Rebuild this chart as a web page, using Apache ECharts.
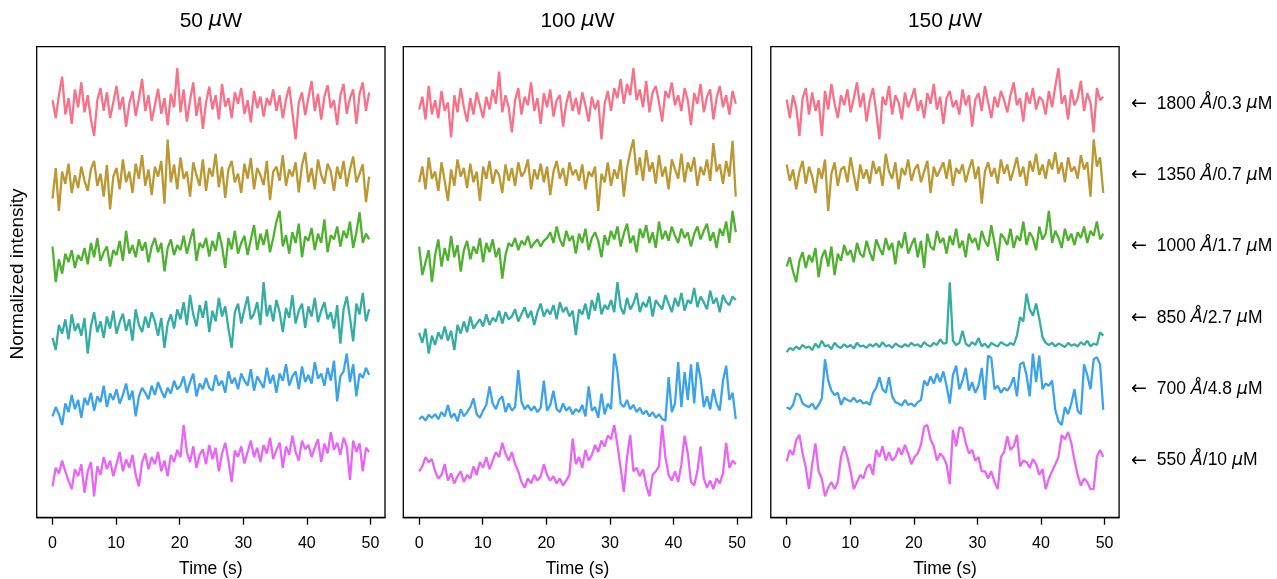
<!doctype html>
<html>

<head>
    <meta charset="utf-8">
    <title>Normalized intensity traces</title>
    <script type="text/javascript" src="https://cdn.jsdelivr.net/npm/echarts@6/dist/echarts.min.js"></script>
</head>

<body style="margin:0;padding:0;background:#fff">
    <div id="tb" style="width:1277px;height:579px"></div>
    <script>
        // time axis: 100 samples from 0 to 49.8 s
        var N = 100;
        var T_END = 49.8;
        var times = [];
        for (var k = 0; k < N; k++) times.push(+(k * T_END / (N - 1)).toFixed(3));

        var xTicks = [0, 10, 20, 30, 40, 50];
        var powers = ['50', '100', '150'];
        var traceLabels = ['1800 Å/0.3 μM', '1350 Å/0.7 μM', '1000 Å/1.7 μM', '850 Å/2.7 μM', '700 Å/4.8 μM', '550 Å/10 μM'];
        var colors = ['#f77189', '#bb9832', '#50b131', '#36ada4', '#3ba3ec', '#e866f4'];
        var offsets = [5, 4, 3, 2, 1, 0];

        // ---- 50 uW ----
        var pink50 = [
            0.55, 0.30, 0.62, 0.88, 0.35, 0.58, 0.22, 0.70, 0.45, 0.80,
            0.38, 0.62, 0.28, 0.05, 0.55, 0.72, 0.40, 0.66, 0.30, 0.52,
            0.75, 0.42, 0.60, 0.18, 0.50, 0.68, 0.33, 0.57, 0.85, 0.40,
            0.62, 0.26, 0.48, 0.71, 0.36, 0.58, 0.20, 0.64, 0.45, 1.00,
            0.38, 0.70, 0.25, 0.55, 0.80, 0.33, 0.60, 0.15, 0.52, 0.74,
            0.42, 0.62, 0.28, 0.78, 0.46, 0.58, 0.30, 0.66, 0.50, 0.72,
            0.36, 0.55, 0.24, 0.68, 0.44, 0.60, 0.32, 0.58, 0.48, 0.70,
            0.40, 0.62, 0.30, 0.56, 0.74, 0.38, 0.00, 0.52, 0.66, 0.34,
            0.58, 0.82, 0.40, 0.64, 0.28, 0.60, 0.76, 0.44, 0.55, 0.20,
            0.62, 0.78, 0.36, 0.58, 0.70, 0.22, 0.64, 0.80, 0.40, 0.66
        ];
        var gold50 = [
            0.17, 0.60, 0.00, 0.55, 0.38, 0.66, 0.25, 0.50, 0.32, 0.62,
            0.42, 0.28, 0.58, 0.70, 0.35, 0.52, 0.20, 0.64, 0.02, 0.48,
            0.60, 0.30, 0.72, 0.40, 0.55, 0.25, 0.66, 0.45, 0.78, 0.35,
            0.58, 0.22, 0.62, 0.48, 0.70, 0.10, 1.00, 0.40, 0.65, 0.30,
            0.75, 0.45, 0.55, 0.20, 0.68, 0.50, 0.35, 0.72, 0.28, 0.60,
            0.48, 0.80, 0.33, 0.62, 0.18, 0.58, 0.70, 0.40, 0.52, 0.25,
            0.66, 0.45, 0.74, 0.30, 0.60, 0.50, 0.36, 0.70, 0.15, 0.55,
            0.62, 0.42, 0.78, 0.35, 0.58, 0.48, 0.68, 0.26, 0.64, 0.82,
            0.40, 0.60, 0.30, 0.72, 0.50, 0.38, 0.66, 0.55, 0.28, 0.62,
            0.45, 0.70, 0.34, 0.58, 0.76, 0.40, 0.52, 0.65, 0.12, 0.48
        ];
        var green50 = [
            0.50, 0.00, 0.32, 0.12, 0.40, 0.28, 0.45, 0.20, 0.38, 0.30,
            0.48, 0.25, 0.55, 0.35, 0.62, 0.30, 0.42, 0.50, 0.22, 0.45,
            0.38, 0.58, 0.30, 0.72, 0.40, 0.52, 0.35, 0.60, 0.44, 0.56,
            0.28, 0.50, 0.62, 0.42, 0.55, 0.15, 0.48, 0.60, 0.38, 0.52,
            0.45, 0.65, 0.40, 0.58, 0.75, 0.30, 0.55, 0.48, 0.62, 0.36,
            0.58, 0.44, 0.70, 0.50, 0.20, 0.62, 0.46, 0.72, 0.40, 0.55,
            0.65, 0.38, 0.60, 0.80, 0.45, 0.68, 0.52, 0.74, 0.42, 0.62,
            0.85, 1.00, 0.50, 0.66, 0.40, 0.70, 0.55, 0.82, 0.35, 0.64,
            0.58, 0.76, 0.45, 0.68, 0.55, 0.88, 0.42, 0.66, 0.60, 0.78,
            0.50, 0.72, 0.62, 0.85, 0.48, 0.70, 0.98, 0.55, 0.68, 0.60
        ];
        var teal50 = [
            0.22, 0.05, 0.40, 0.28, 0.48, 0.20, 0.55, 0.32, 0.42, 0.25,
            0.50, 0.00, 0.38, 0.58, 0.30, 0.45, 0.22, 0.52, 0.35, 0.60,
            0.28, 0.44, 0.56, 0.32, 0.48, 0.18, 0.62, 0.40, 0.30, 0.52,
            0.36, 0.58, 0.45, 0.25, 0.50, 0.08, 0.42, 0.55, 0.35, 0.62,
            0.48, 0.72, 0.40, 0.82, 0.55, 0.38, 0.68, 0.50, 0.74, 0.30,
            0.60, 0.45, 0.78, 0.52, 0.66, 0.35, 0.08, 0.58, 0.70, 0.42,
            0.62, 0.80, 0.48, 0.56, 0.72, 0.40, 1.00, 0.52, 0.68, 0.45,
            0.75, 0.58, 0.30, 0.64, 0.50, 0.82, 0.42, 0.60, 0.70, 0.36,
            0.66, 0.52, 0.78, 0.44, 0.60, 0.72, 0.48, 0.58, 0.35, 0.68,
            0.14, 0.62, 0.80, 0.50, 0.17, 0.70, 0.55, 0.85, 0.45, 0.62
        ];
        var blue50 = [
            0.12, 0.25, 0.15, 0.00, 0.30, 0.18, 0.42, 0.22, 0.35, 0.10,
            0.38, 0.28, 0.45, 0.20, 0.40, 0.32, 0.55, 0.25, 0.44, 0.35,
            0.50, 0.30, 0.42, 0.58, 0.35, 0.48, 0.12, 0.40, 0.52, 0.45,
            0.36, 0.55, 0.42, 0.60, 0.48, 0.38, 0.52, 0.44, 0.62, 0.50,
            0.55, 0.68, 0.45, 0.60, 0.72, 0.40, 0.58, 0.50, 0.66, 0.52,
            0.48, 0.70, 0.55, 0.62, 0.45, 0.75, 0.58, 0.66, 0.50, 0.72,
            0.62, 0.55, 0.78, 0.48, 0.68, 0.60, 0.52, 0.80, 0.58, 0.70,
            0.45, 0.72, 0.62, 0.85, 0.55, 0.68, 0.75, 0.50, 0.82, 0.60,
            0.70, 0.58, 0.88, 0.65, 0.72, 0.55, 0.80, 0.62, 0.90, 0.33,
            0.68, 0.75, 1.00, 0.60, 0.85, 0.40, 0.72, 0.66, 0.80, 0.70
        ];
        var magenta50 = [
            0.14, 0.40, 0.32, 0.50, 0.35, 0.22, 0.10, 0.38, 0.28, 0.45,
            0.05, 0.35, 0.48, 0.00, 0.42, 0.30, 0.55, 0.38, 0.50, 0.28,
            0.45, 0.62, 0.35, 0.52, 0.40, 0.58, 0.30, 0.14, 0.48, 0.60,
            0.38, 0.55, 0.45, 0.62, 0.35, 0.50, 0.28, 0.58, 0.48, 0.65,
            0.55, 1.00, 0.62, 0.48, 0.70, 0.40, 0.58, 0.66, 0.45, 0.72,
            0.52, 0.68, 0.35, 0.60, 0.75, 0.50, 0.20, 0.64, 0.55, 0.70,
            0.46, 0.62, 0.78, 0.55, 0.68, 0.48, 0.72, 0.60, 0.82, 0.52,
            0.65, 0.75, 0.40, 0.70, 0.58, 0.85, 0.62, 0.50, 0.78, 0.66,
            0.72, 0.55, 0.68, 0.80, 0.48, 0.74, 0.60, 0.90, 0.65, 0.75,
            0.58, 0.82, 0.70, 0.23, 0.78, 0.62, 0.74, 0.35, 0.68, 0.62
        ];

        // ---- 100 uW ----
        var pink100 = [
            0.42, 0.60, 0.28, 0.75, 0.35, 0.55, 0.30, 0.68, 0.40, 0.52,
            0.03, 0.62, 0.38, 0.72, 0.45, 0.25, 0.58, 0.35, 0.66, 0.48,
            0.30, 0.60, 0.42, 0.70, 0.50, 0.95, 0.38, 0.62, 0.45, 0.10,
            0.55, 0.72, 0.35, 0.60, 0.48, 0.80, 0.40, 0.58, 0.22, 0.65,
            0.45, 0.70, 0.32, 0.55, 0.62, 0.18, 0.50, 0.68, 0.40, 0.58,
            0.35, 0.66, 0.48, 0.25, 0.60, 0.42, 0.55, 0.00, 0.50, 0.68,
            0.40, 0.72, 0.58, 0.85, 0.50, 0.78, 0.62, 1.00, 0.55, 0.70,
            0.45, 0.82, 0.38, 0.66, 0.75, 0.52, 0.25, 0.68, 0.58, 0.80,
            0.48, 0.62, 0.40, 0.72, 0.55, 0.20, 0.65, 0.50, 0.78, 0.38,
            0.60, 0.70, 0.28, 0.58, 0.75, 0.45, 0.62, 0.35, 0.68, 0.50
        ];
        var gold100 = [
            0.40, 0.62, 0.30, 0.75, 0.45, 0.55, 0.28, 0.68, 0.42, 0.14,
            0.58, 0.35, 0.72, 0.48, 0.60, 0.32, 0.66, 0.40, 0.55, 0.14,
            0.62, 0.45, 0.70, 0.38, 0.58, 0.50, 0.25, 0.65, 0.42, 0.60,
            0.35, 0.68, 0.48, 0.55, 0.72, 0.30, 0.58, 0.44, 0.66, 0.40,
            0.62, 0.22, 0.55, 0.70, 0.45, 0.60, 0.35, 0.68, 0.50, 0.58,
            0.42, 0.65, 0.30, 0.55, 0.48, 0.62, 0.00, 0.52, 0.40, 0.68,
            0.35, 0.58, 0.45, 0.72, 0.20, 0.60, 0.82, 1.00, 0.50, 0.75,
            0.42, 0.85, 0.55, 0.68, 0.38, 0.78, 0.48, 0.62, 0.30, 0.72,
            0.58, 0.45, 0.80, 0.40, 0.68, 0.55, 0.75, 0.35, 0.62, 0.50,
            0.72, 0.42, 0.95, 0.55, 0.65, 0.38, 0.70, 0.48, 0.98, 0.20
        ];
        var green100 = [
            0.50, 0.10, 0.28, 0.45, 0.00, 0.38, 0.60, 0.22, 0.48, 0.30,
            0.65, 0.35, 0.52, 0.15, 0.45, 0.58, 0.32, 0.50, 0.40, 0.62,
            0.28, 0.55, 0.42, 0.60, 0.35, 0.48, 0.05, 0.38, 0.55, 0.50,
            0.62, 0.45, 0.58, 0.52, 0.65, 0.48, 0.55, 0.60, 0.50, 0.58,
            0.62, 0.70, 0.55, 0.78, 0.60, 0.50, 0.72, 0.58, 0.65, 0.40,
            0.68, 0.55, 0.75, 0.45, 0.62, 0.70, 0.58, 0.35, 0.66, 0.52,
            0.72, 0.60, 0.78, 0.50, 0.68, 0.82, 0.55, 0.65, 0.42, 0.75,
            0.62, 0.80, 0.55, 0.70, 0.48, 0.85, 0.60, 0.72, 0.58, 0.78,
            0.65, 0.55, 0.75, 0.62, 0.70, 0.50, 0.68, 0.78, 0.60, 0.72,
            0.82, 0.58, 0.70, 0.48, 0.75, 0.65, 0.85, 0.55, 1.00, 0.70
        ];
        var teal100 = [
            0.29, 0.15, 0.35, 0.00, 0.25, 0.12, 0.30, 0.20, 0.38, 0.18,
            0.32, 0.05, 0.40, 0.28, 0.45, 0.30, 0.52, 0.35, 0.42, 0.48,
            0.38, 0.55, 0.40, 0.50, 0.45, 0.60, 0.42, 0.58, 0.48, 0.52,
            0.62, 0.45, 0.55, 0.65, 0.50, 0.60, 0.40, 0.58, 0.70, 0.52,
            0.62, 0.55, 0.68, 0.48, 0.72, 0.58, 0.65, 0.52, 0.60, 0.26,
            0.62, 0.55, 0.70, 0.48, 0.75, 0.60, 0.85, 0.55, 0.68, 0.62,
            0.75, 0.58, 1.00, 0.65, 0.55, 0.78, 0.62, 0.70, 0.85, 0.58,
            0.72, 0.65, 0.80, 0.52, 0.75, 0.68, 0.62, 0.82, 0.70, 0.58,
            0.78, 0.66, 0.85, 0.60, 0.75, 0.70, 0.92, 0.65, 0.80, 0.72,
            0.62, 0.88, 0.70, 0.78, 0.58, 0.82, 0.72, 0.68, 0.80, 0.75
        ];
        var blue100 = [
            0.08, 0.12, 0.06, 0.14, 0.10, 0.15, 0.08, 0.18, 0.12, 0.28,
            0.10, 0.16, 0.05, 0.22, 0.12, 0.18, 0.25, 0.37, 0.15, 0.10,
            0.20, 0.28, 0.54, 0.30, 0.22, 0.35, 0.40, 0.18, 0.30, 0.20,
            0.25, 0.77, 0.32, 0.22, 0.28, 0.20, 0.26, 0.18, 0.24, 0.62,
            0.20, 0.28, 0.48, 0.22, 0.18, 0.30, 0.20, 0.25, 0.15, 0.22,
            0.18, 0.28, 0.12, 0.54, 0.20, 0.25, 0.10, 0.44, 0.15, 0.30,
            0.22, 1.00, 0.75, 0.30, 0.25, 0.35, 0.22, 0.28, 0.18, 0.24,
            0.15, 0.20, 0.12, 0.18, 0.10, 0.15, 0.08, 0.06, 0.67, 0.18,
            0.30, 0.88, 0.25, 0.74, 0.35, 0.85, 0.30, 0.88, 0.65, 0.25,
            0.40, 0.22, 0.50, 0.30, 0.20, 0.62, 0.83, 0.35, 0.45, 0.08
        ];
        var magenta100 = [
            0.35, 0.42, 0.55, 0.48, 0.52, 0.35, 0.25, 0.30, 0.45, 0.22,
            0.32, 0.18, 0.28, 0.35, 0.20, 0.30, 0.25, 0.42, 0.30, 0.48,
            0.40, 0.55, 0.38, 0.50, 0.62, 0.55, 0.75, 0.60, 0.50, 0.62,
            0.45, 0.35, 0.20, 0.12, 0.25, 0.18, 0.30, 0.22, 0.28, 0.45,
            0.30, 0.22, 0.28, 0.18, 0.25, 0.15, 0.22, 0.30, 0.81, 0.45,
            0.55, 0.40, 0.65, 0.50, 0.58, 0.72, 0.62, 0.78, 0.70, 0.85,
            0.80, 1.00, 0.72, 0.40, 0.06, 0.55, 0.86, 0.35, 0.40, 0.28,
            0.38, 0.15, 0.00, 0.30, 0.35, 0.42, 1.00, 0.55, 0.30, 0.22,
            0.35, 0.20, 0.45, 0.85, 0.60, 0.20, 0.15, 0.35, 0.70, 0.25,
            0.12, 0.22, 0.10, 0.25, 0.18, 0.32, 0.75, 0.40, 0.50, 0.45
        ];

        // ---- 150 uW ----
        var pink150 = [
            0.56, 0.30, 0.62, 0.45, 0.05, 0.58, 0.72, 0.35, 0.66, 0.40,
            0.55, 0.05, 0.68, 0.42, 0.78, 0.50, 0.30, 0.62, 0.48, 0.70,
            0.38, 0.58, 0.80, 0.45, 0.65, 0.25, 0.55, 0.72, 0.40, 0.00,
            0.60, 0.48, 0.75, 0.35, 0.62, 0.52, 0.28, 0.66, 0.45, 0.58,
            0.72, 0.40, 0.55, 0.30, 0.65, 0.50, 0.78, 0.42, 0.60, 0.22,
            0.58, 0.68, 0.45, 0.55, 0.35, 0.70, 0.48, 0.62, 0.18, 0.56,
            0.65, 0.40, 0.75, 0.52, 0.30, 0.60, 0.45, 0.68, 0.55, 0.38,
            0.62, 0.80, 0.48, 0.58, 0.25, 0.66, 0.50, 0.72, 0.42, 0.60,
            0.55, 0.35, 0.68, 0.45, 0.75, 1.00, 0.50, 0.62, 0.28, 0.70,
            0.48, 0.58, 0.82, 0.40, 0.65, 0.52, 0.10, 0.72, 0.55, 0.60
        ];
        var gold150 = [
            0.65, 0.42, 0.58, 0.30, 0.55, 0.70, 0.38, 0.62, 0.48, 0.25,
            0.60, 0.45, 0.72, 0.00, 0.52, 0.68, 0.35, 0.58, 0.62, 0.40,
            0.75, 0.50, 0.28, 0.65, 0.45, 0.58, 0.38, 0.70, 0.52, 0.62,
            0.35, 0.80, 0.55, 0.45, 0.68, 0.30, 0.60, 0.50, 0.72, 0.42,
            0.58, 0.65, 0.40, 0.55, 0.70, 0.25, 0.62, 0.48, 0.58, 0.68,
            0.45, 0.72, 0.35, 0.60, 0.52, 0.65, 0.40, 0.58, 0.72, 0.45,
            0.62, 0.10, 0.55, 0.68, 0.48, 0.60, 0.38, 0.72, 0.52, 0.65,
            0.42, 0.58, 0.75, 0.48, 0.62, 0.35, 0.70, 0.55, 0.80, 0.50,
            0.65, 0.45, 0.72, 0.58, 0.82, 0.52, 0.68, 0.40, 0.75, 0.55,
            0.62, 0.45, 0.78, 0.58, 0.68, 0.20, 1.00, 0.62, 0.75, 0.25
        ];
        var green150 = [
            0.22, 0.35, 0.15, 0.00, 0.30, 0.42, 0.20, 0.38, 0.28, 0.48,
            0.07, 0.35, 0.45, 0.22, 0.50, 0.10, 0.40, 0.30, 0.52, 0.38,
            0.45, 0.28, 0.55, 0.40, 0.35, 0.58, 0.42, 0.30, 0.60, 0.48,
            0.38, 0.62, 0.45, 0.55, 0.25, 0.58, 0.48, 0.70, 0.40, 0.52,
            0.62, 0.35, 0.58, 0.20, 0.68, 0.50, 0.45, 0.72, 0.55, 0.62,
            0.40, 0.65, 0.52, 0.75, 0.48, 0.58, 0.35, 0.68, 0.55, 0.62,
            0.45, 0.72, 0.58, 0.50, 0.80, 0.55, 0.30, 0.68, 0.62, 0.52,
            0.75, 0.48, 0.65, 0.58, 0.85, 0.52, 0.70, 0.62, 0.45, 0.78,
            0.60, 0.68, 1.00, 0.55, 0.72, 0.62, 0.48, 0.75, 0.58, 0.68,
            0.52, 0.70, 0.62, 0.78, 0.55, 0.72, 0.65, 0.85, 0.60, 0.68
        ];
        var teal150 = [
            0.02, 0.08, 0.05, 0.10, 0.06, 0.12, 0.08, 0.10, 0.05, 0.14,
            0.08, 0.18, 0.10, 0.12, 0.06, 0.15, 0.10, 0.08, 0.13, 0.09,
            0.12, 0.07, 0.15, 0.10, 0.11, 0.08, 0.13, 0.10, 0.14, 0.09,
            0.16, 0.10, 0.12, 0.08, 0.14, 0.11, 0.09, 0.13, 0.10, 0.15,
            0.11, 0.13, 0.09, 0.16, 0.12, 0.10, 0.15, 0.12, 0.20, 0.14,
            0.15, 1.00, 0.18, 0.12, 0.15, 0.32, 0.14, 0.10, 0.16, 0.12,
            0.22, 0.10, 0.14, 0.08, 0.15, 0.12, 0.10, 0.16, 0.13, 0.11,
            0.15, 0.12, 0.25, 0.51, 0.45, 0.84, 0.62, 0.53, 0.70, 0.49,
            0.23, 0.15, 0.12, 0.15, 0.10, 0.14, 0.12, 0.09, 0.15, 0.11,
            0.13, 0.10, 0.16, 0.12, 0.18, 0.10, 0.14, 0.12, 0.30, 0.25
        ];
        var blue150 = [
            0.25, 0.22, 0.28, 0.44, 0.42, 0.30, 0.27, 0.25, 0.30, 0.22,
            0.28, 0.37, 0.92, 0.62, 0.48, 0.42, 0.45, 0.28, 0.38, 0.35,
            0.33, 0.38, 0.32, 0.35, 0.30, 0.32, 0.28, 0.45, 0.52, 0.67,
            0.50, 0.45, 0.67, 0.40, 0.32, 0.30, 0.27, 0.35, 0.28, 0.30,
            0.26, 0.32, 0.35, 0.62, 0.55, 0.68, 0.58, 0.72, 0.60, 0.75,
            0.55, 0.30, 0.70, 0.83, 0.50, 0.62, 0.80, 0.48, 0.60, 0.45,
            0.55, 0.80, 0.35, 0.97, 0.94, 0.50, 0.55, 0.45, 0.52, 0.48,
            0.55, 0.67, 0.40, 0.85, 0.88, 0.70, 0.40, 1.00, 0.60, 0.97,
            0.50, 0.58, 0.55, 0.62, 0.21, 0.05, 0.00, 0.25, 0.15, 0.30,
            0.50, 0.20, 0.15, 0.85, 0.70, 0.50, 0.92, 0.95, 0.85, 0.21
        ];
        var magenta150 = [
            0.49, 0.65, 0.58, 0.79, 0.86, 0.60, 0.40, 0.10, 0.45, 0.74,
            0.35, 0.25, 0.00, 0.12, 0.20, 0.10, 0.20, 0.55, 0.70, 0.55,
            0.35, 0.10, 0.20, 0.30, 0.25, 0.40, 0.45, 0.30, 0.65, 0.55,
            0.70, 0.50, 0.62, 0.50, 0.55, 0.68, 0.58, 0.72, 0.60, 0.45,
            0.55, 0.60, 0.72, 0.97, 1.00, 0.80, 0.70, 0.50, 0.60, 0.55,
            0.45, 0.17, 0.93, 0.70, 0.97, 0.95, 0.75, 0.60, 0.65, 0.50,
            0.55, 0.35, 0.35, 0.25, 0.35, 0.20, 0.10, 0.55, 0.62, 0.84,
            0.65, 0.70, 0.86, 0.42, 0.50, 0.48, 0.40, 0.52, 0.45, 0.30,
            0.38, 0.10, 0.25, 0.35, 0.45, 0.55, 0.86, 0.80, 0.90, 0.75,
            0.50, 0.30, 0.15, 0.25, 0.20, 0.10, 0.10, 0.55, 0.65, 0.55
        ];

        var panels = [
            [pink50, gold50, green50, teal50, blue50, magenta50],
            [pink100, gold100, green100, teal100, blue100, magenta100],
            [pink150, gold150, green150, teal150, blue150, magenta150]
        ];

        var FONT = 'Liberation Sans, Arial, DejaVu Sans, sans-serif';
        var gridLefts = [36.7, 403.3, 770.8];
        var GRID_TOP = 46.7, GRID_W = 348.3, GRID_H = 471;

        var bt = document.getElementById('tb');
        var btchart = echarts.init(bt, null, { renderer: 'canvas' });

        var grids = [], xAxes = [], yAxes = [], series = [], titles = [];
        gridLefts.forEach(function (left, g) {
            grids.push({
                left: left, top: GRID_TOP, width: GRID_W, height: GRID_H,
                outerBoundsMode: 'none', containLabel: false,
                show: true, borderColor: '#000', borderWidth: 1.3, backgroundColor: 'transparent'
            });
            xAxes.push({
                gridIndex: g, type: 'value', min: -2.49, max: 52.29,
                axisLine: { show: true, onZero: false, lineStyle: { color: '#000', width: 1.3 } },
                axisTick: { show: true, length: 7, customValues: xTicks, lineStyle: { color: '#000', width: 1.3 } },
                axisLabel: { customValues: xTicks, fontSize: 16, color: '#000', margin: 18, fontFamily: FONT },
                splitLine: { show: false },
                name: 'Time (s)', nameLocation: 'middle', nameGap: 42,
                nameTextStyle: { fontSize: 17.5, color: '#000', fontFamily: FONT }
            });
            yAxes.push({
                gridIndex: g, type: 'value', min: -0.3, max: 6.3,
                axisLine: { show: false, onZero: false }, axisTick: { show: false },
                axisLabel: { show: false }, splitLine: { show: false }
            });
            titles.push({
                text: powers[g] + ' {it|μ}W',
                left: left + GRID_W / 2, top: 10.5, textAlign: 'center', padding: 0,
                textStyle: {
                    fontSize: 21, fontWeight: 'normal', color: '#000', fontFamily: FONT,
                    rich: { it: { fontSize: 21, fontStyle: 'italic', fontFamily: 'DejaVu Sans', color: '#000' } }
                }
            });
            panels[g].forEach(function (vals, i) {
                series.push({
                    type: 'line', xAxisIndex: g, yAxisIndex: g,
                    showSymbol: false, silent: true,
                    lineStyle: { color: colors[i], width: 2.3 },
                    data: times.map(function (t, j) { return [t, offsets[i] + vals[j]]; })
                });
            });
        });

        // right-hand labels for each trace (placed at trace centre, offset + 0.5)
        yAxes.push({
            gridIndex: 2, type: 'value', position: 'right', min: -0.3, max: 6.3,
            axisLine: { show: false, onZero: false }, axisTick: { show: false }, splitLine: { show: false },
            axisLabel: {
                customValues: offsets.map(function (o) { return o + 0.5; }),
                margin: 12, fontSize: 17.5, color: '#000', fontFamily: FONT,
                formatter: function (v) {
                    var idx = offsets.indexOf(Math.round(v - 0.5));
                    var s = traceLabels[idx] || '';
                    return '{ar|←}  ' + s.replace('Å', '{it|Å}').replace('μ', '{it|μ}');
                },
                rich: {
                    ar: { fontSize: 19, fontFamily: 'DejaVu Sans', color: '#000' },
                    it: { fontSize: 17.5, fontStyle: 'italic', fontFamily: 'DejaVu Sans', color: '#000' }
                }
            }
        });

        btchart.setOption({
            animation: false,
            backgroundColor: '#fff',
            title: titles,
            grid: grids,
            xAxis: xAxes,
            yAxis: yAxes,
            series: series,
            graphic: [{
                type: 'text', x: 17.5, y: 274, rotation: Math.PI / 2,
                style: {
                    text: 'Normalized intensity', fontSize: 19, fontFamily: FONT, fill: '#000',
                    align: 'center', verticalAlign: 'middle'
                }
            }]
        });
    </script>
</body>

</html>
